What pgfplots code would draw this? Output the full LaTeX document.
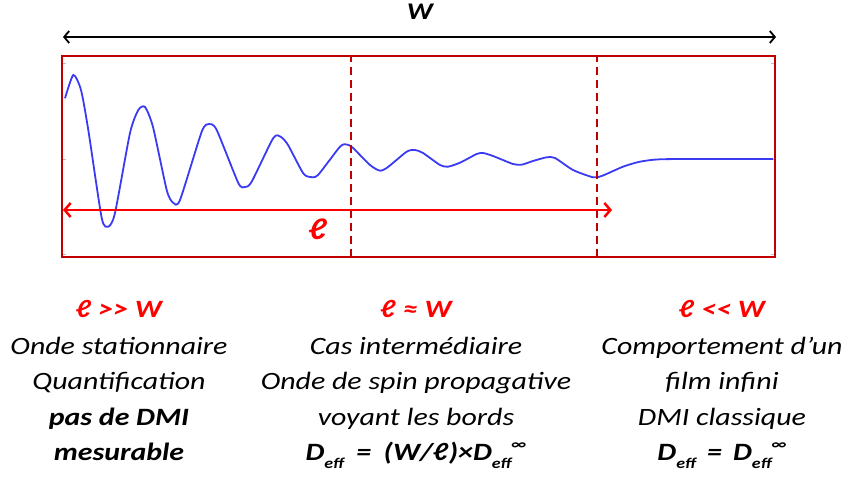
\documentclass[border=0pt]{standalone}
\usepackage{fontspec}
\setmainfont{Carlito}[FakeStretch=1.2]
\usepackage{pgfplots}
\pgfplotsset{compat=1.18}
\usetikzlibrary{arrows.meta}
\definecolor{boxred}{HTML}{C00000}
\definecolor{wave}{HTML}{3A3AF2}
\definecolor{hired}{HTML}{FF0000}
\newcommand{\Deff}{D\raisebox{-0.3em}{\fontsize{15}{15}\selectfont eff}}
\newcommand{\infsup}{\raisebox{0.45em}{\fontsize{15}{15}\selectfont ∞}}
\newcommand{\txt}{\fontsize{25}{29}\selectfont\itshape}
\newcommand{\hd}{\fontsize{25}{30}\selectfont\bfseries\itshape\color{hired}}

\begin{document}
\begin{tikzpicture}[x=1bp,y=1bp]
\useasboundingbox (0,0) rectangle (847,479);
\begin{axis}[
  at={(62,222)}, anchor=south west,
  scale only axis, width=713bp, height=201bp,
  xmin=0, xmax=713, ymin=0, ymax=201,
  axis line style={boxred, line width=2.5bp},
  xtick=\empty, ytick={3,98,194}, yticklabels={},
  ytick pos=both, tick align=inside,
  major tick length=4bp,
  every tick/.style={gray!50, line width=0.6bp},
  clip=false,
]
% damped wave
\addplot[wave, line width=1.8bp, smooth, tension=0.4] coordinates {
(3,158.7) (11.3,182) (19,167) (26.3,127) (39.7,39) (46.3,30.3) (53,44)
(68,124) (76.3,147) (83,150) (91,130) (104.7,67) (111,54.3) (118,57)
(139.7,125.3) (147,133) (154.7,127) (176.3,74) (183,70) (189.7,75.3)
(211.3,119) (219,120) (226,112) (241,84) (248,80) (256,82)
(278,110.3) (285,112.5) (291,109) (308,92) (318,86.3) (326,90)
(344.7,105.3) (353,107) (361,104) (378,92) (386,90.3) (398,94.3)
(414.7,103) (421,104) (431,101) (451,93) (459.7,92.3) (471,96)
(484.7,99.7) (493,99) (511,87) (531,79.7) (539.7,81) (561,90.3)
(578,95.3) (598,97.7) (644.7,98) (711,98)
};
% region borders
\addplot[boxred, line width=2bp, dash pattern=on 8bp off 5bp] coordinates {(289,0) (289,201)};
\addplot[boxred, line width=2bp, dash pattern=on 8bp off 5bp] coordinates {(535,0) (535,201)};
% decay length arrow
\draw[hired, line width=2.5bp, {Straight Barb[length=6bp,width=14bp]}-{Straight Barb[length=6bp,width=14bp]}]
  (axis cs:1,47) -- (axis cs:550,47);
\end{axis}

% width arrow
\draw[black, line width=1.8bp, {Straight Barb[length=5bp,width=12bp]}-{Straight Barb[length=5bp,width=12bp]}]
  (63,442) -- (776,442);
\node[anchor=base, font=\fontsize{24}{28}\selectfont\bfseries\itshape] at (420,459) {W};
\node[anchor=base, text=hired, font=\fontsize{30}{36}\selectfont\bfseries\itshape] at (318,239) {ℓ};

% column 1
\node[anchor=base] at (119,161) {\hd ℓ >{}> W};
\node[anchor=base] at (119,124) {\txt Onde stationnaire};
\node[anchor=base] at (119,89) {\txt Quantification};
\node[anchor=base] at (119,53) {\txt\bfseries pas de DMI};
\node[anchor=base] at (119,18) {\txt\bfseries mesurable};

% column 2
\node[anchor=base] at (416,161) {\hd ℓ ≈ W};
\node[anchor=base] at (416,124) {\txt Cas intermédiaire};
\node[anchor=base] at (416,89) {\txt Onde de spin propagative};
\node[anchor=base] at (416,53) {\txt voyant les bords};
\node[anchor=base] at (416,18) {\txt\bfseries \Deff\hspace{0.5em}=\hspace{0.5em}(W/ℓ)×\Deff\infsup};

% column 3
\node[anchor=base] at (722,161) {\hd ℓ <{}< W};
\node[anchor=base] at (722,124) {\txt Comportement d’un};
\node[anchor=base] at (722,89) {\txt film infini};
\node[anchor=base] at (722,53) {\txt DMI classique};
\node[anchor=base] at (722,18) {\txt\bfseries \Deff\hspace{0.45em}=\hspace{0.45em}\Deff\infsup};
\end{tikzpicture}
\end{document}
